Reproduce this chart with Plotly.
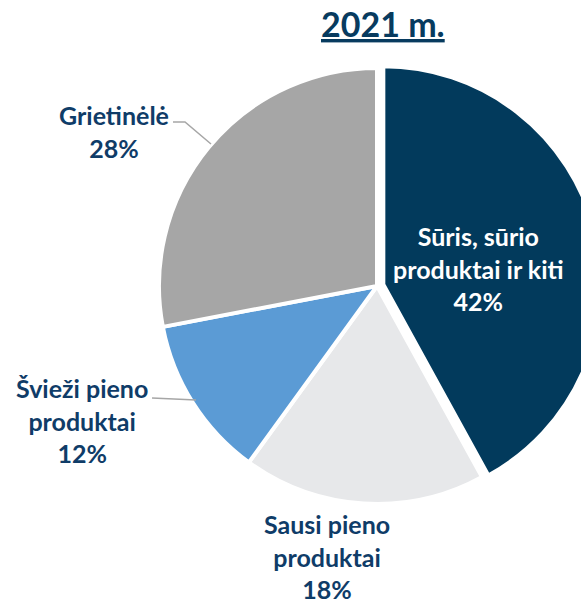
import plotly.graph_objects as go

# ---- data ----
categories = ["Sūris, sūrio produktai ir kiti", "Sausi pieno produktai",
              "Švieži pieno produktai", "Grietinėlė"]
label_lines = [["Sūris, sūrio", "produktai ir kiti"], ["Sausi pieno", "produktai"],
               ["Švieži pieno", "produktai"], ["Grietinėlė"]]
shares = [42, 18, 12, 28]
title_text = "2021 m."

# ---- style ----
W, H = 754, 603
colors = ["#023A5C", "#E7E8EA", "#5B9BD5", "#A6A6A6"]
text_color = "#0F3C68"
font_family = "Lato"

fig = go.Figure(go.Pie(
    labels=categories,
    values=shares,
    sort=False,
    direction="clockwise",
    rotation=0,
    pull=[0.03, 0, 0, 0],
    marker=dict(colors=colors, line=dict(color="white", width=4)),
    textinfo="none",
    hoverinfo="label+percent",
    domain=dict(x=[0, 1], y=[0.1533, 0.8981]),
    showlegend=False,
))

def px(x):
    return x / W

def py(y):
    return 1 - y / H

# label positions (pixel centres) and text colours
label_pos = [(478, 268, "white"), (327, 556, text_color),
             (82, 420, text_color), (114, 131, text_color)]
annotations = []
for lines, val, (x, y, c) in zip(label_lines, shares, label_pos):
    txt = "<br>".join(f"<b>{l}</b>" for l in lines) + f"<br><b>{val}%</b>"
    annotations.append(dict(
        text=txt, x=px(x), y=py(y), xref="paper", yref="paper",
        xanchor="center", yanchor="middle", showarrow=False, align="center",
        font=dict(family=font_family, size=25, color=c)))

annotations.append(dict(
    text=f"<b><u>{title_text}</u></b>", x=px(383), y=py(23), xref="paper", yref="paper",
    xanchor="center", yanchor="middle", showarrow=False,
    font=dict(family=font_family, size=34, color="#073B5F")))

shapes = [
    dict(type="path", xref="paper", yref="paper",
         path=f"M {px(173)},{py(122)} L {px(185)},{py(122)} L {px(211)},{py(144)}",
         line=dict(color="#A6A6A6", width=1.5)),
    dict(type="line", xref="paper", yref="paper",
         x0=px(152), y0=py(398), x1=px(196), y1=py(400),
         line=dict(color="#A6A6A6", width=1.5)),
]

fig.update_layout(
    width=W, height=H,
    margin=dict(l=0, r=0, t=0, b=0),
    paper_bgcolor="white",
    plot_bgcolor="white",
    annotations=annotations,
    shapes=shapes,
)

fig.write_html("out.html",
               post_script="document.body.style.margin='0';document.body.style.overflow='hidden';")
